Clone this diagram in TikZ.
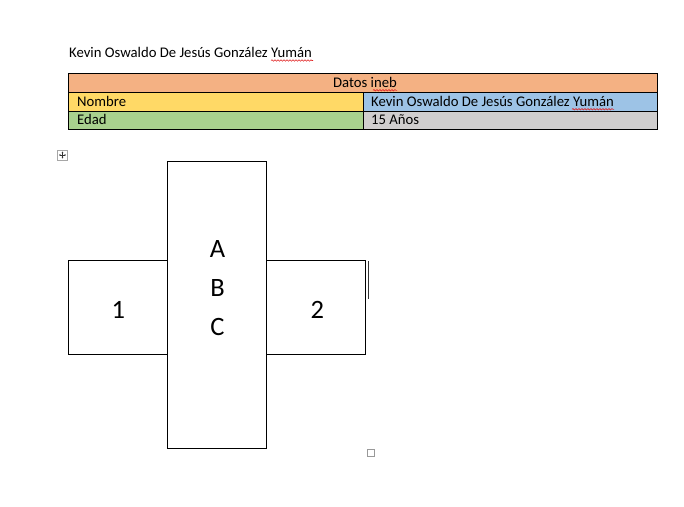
\documentclass[tikz,border=0pt]{standalone}
\usepackage{fontspec}
\setmainfont{Carlito}
\usetikzlibrary{decorations.pathmorphing,arrows.meta}
\definecolor{hdrorange}{HTML}{F4B183}
\definecolor{rowyellow}{HTML}{FFD966}
\definecolor{rowgreen}{HTML}{A9D18E}
\definecolor{rowblue}{HTML}{9DC3E6}
\definecolor{rowgrey}{HTML}{D0CECE}
\definecolor{spellred}{HTML}{E02020}
\tikzset{
  cell/.style={draw=black, line width=1pt},
  celltext/.style={font=\fontsize{14.7}{17}\selectfont, inner sep=0pt, anchor=base west},
  boxshape/.style={draw=black, line width=1pt, inner sep=0pt, minimum width=99pt},
  bigtext/.style={font=\fontsize{26.5}{30}\selectfont, inner sep=0pt, anchor=base},
  spell/.style={draw=spellred, line width=0.6pt, decorate, decoration={snake, segment length=3pt, amplitude=0.7pt}}
}
\begin{document}
\begin{tikzpicture}[x=1pt,y=-1pt]
\useasboundingbox (0,0) rectangle (684,506);
% title
\node[celltext] (title) at (69,57.3) {Kevin Oswaldo De Jesús González Yumán};
\coordinate (t1) at (271,60.5);
\coordinate (t2) at (313,60.5);
\draw[spell] (t1) -- (t2);
% table
\fill[hdrorange] (68,73.5) rectangle (657,92.3);
\fill[rowyellow] (68,92.3) rectangle (363.3,111.3);
\fill[rowblue] (363.3,92.3) rectangle (657,111.3);
\fill[rowgreen] (68,111.3) rectangle (363.3,129.7);
\fill[rowgrey] (363.3,111.3) rectangle (657,129.7);
\draw[cell] (68,73.5) rectangle (657,129.7);
\draw[cell] (68,92.3) -- (657,92.3);
\draw[cell] (68,111.3) -- (657,111.3);
\draw[cell] (363.3,92.3) -- (363.3,129.7);
\node[celltext, anchor=base] (hdr) at (365,87) {Datos ineb};
\node[celltext] (nom) at (77,106.3) {Nombre};
\node[celltext] (nomv) at (371,106.3) {Kevin Oswaldo De Jesús González Yumán};
\node[celltext] (eda) at (77,124.5) {Edad};
\node[celltext] (edav) at (371,124.5) {15 Años};
\coordinate (h1) at (373,90.3);
\coordinate (h2) at (397,90.3);
\draw[spell] (h1) -- (h2);
\coordinate (n1) at (572,109.3);
\coordinate (n2) at (614,109.3);
\draw[spell] (n1) -- (n2);
% move handle
\node[draw=gray!70, line width=0.6pt, minimum width=10pt, minimum height=10pt, inner sep=0pt] (handle) at (62.5,155) {};
\draw[gray!40!black, line width=0.5pt, {Stealth[length=1.6pt,width=1.8pt]}-{Stealth[length=1.6pt,width=1.8pt]}] ([xshift=-3.5pt]handle.center) -- ([xshift=3.5pt]handle.center);
\draw[gray!40!black, line width=0.5pt, {Stealth[length=1.6pt,width=1.8pt]}-{Stealth[length=1.6pt,width=1.8pt]}] ([yshift=-3.5pt]handle.center) -- ([yshift=3.5pt]handle.center);
% cross shape
\node[boxshape, minimum height=287pt] (mid) at (217,304.8) {};
\node[boxshape, minimum height=94pt] (left) at (117.8,307) {};
\node[boxshape, minimum height=94pt] (right) at (316.4,307) {};
\node[bigtext] (la) at (217.5,257.3) {A};
\node[bigtext] (lb) at (217.5,296) {B};
\node[bigtext] (lc) at (217.5,335) {C};
\node[bigtext] (l1) at (118.3,318.3) {1};
\node[bigtext] (l2) at (317.3,318) {2};
% cursor line
\coordinate (c1) at (368.6,261);
\coordinate (c2) at (368.6,299);
\draw[black!80, line width=1pt] (c1) -- (c2);
% resize handle
\node[draw=gray!80, line width=0.6pt, minimum width=6.5pt, minimum height=6.5pt, inner sep=0pt] (resize) at (371,453) {};
\end{tikzpicture}
\end{document}
